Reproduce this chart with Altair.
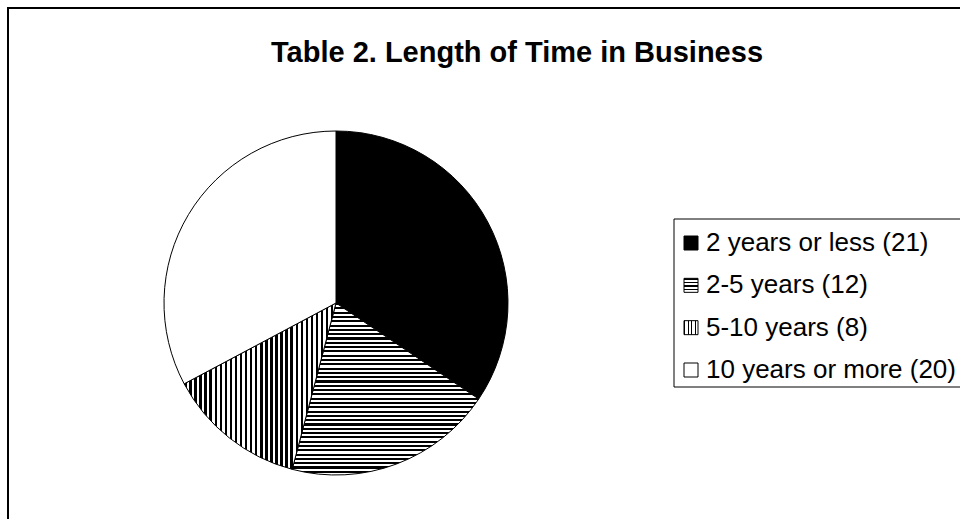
import altair as alt
import pandas as pd

# ---- data ----
categories = ["2 years or less (21)", "2-5 years (12)", "5-10 years (8)", "10 years or more (20)"]
counts = [21, 12, 8, 20]
title_text = "Table 2. Length of Time in Business"

df = pd.DataFrame({"cat": categories, "count": counts, "order": list(range(len(categories)))})
one = pd.DataFrame({"title": [title_text]})


def stripes(n, frac, horizontal):
    stops = []
    for i in range(n):
        a = i / n
        b = (i + frac) / n
        c = (i + 1) / n
        stops += [
            {"offset": a, "color": "black"},
            {"offset": b, "color": "black"},
            {"offset": b, "color": "white"},
            {"offset": c, "color": "white"},
        ]
    g = {"gradient": "linear", "stops": stops}
    if horizontal:
        g.update({"x1": 0, "y1": 0, "x2": 0, "y2": 1})
    else:
        g.update({"x1": 0, "y1": 0, "x2": 1, "y2": 0})
    return g


h_big = stripes(40, 0.5, True)
v_big = stripes(30, 0.48, False)
h_small = stripes(4, 0.4, True)
v_small = stripes(4, 0.4, False)


def fill_for(h, v):
    return (
        alt.when(alt.datum.cat == categories[0]).then(alt.value("black"))
        .when(alt.datum.cat == categories[1]).then(alt.value(h))
        .when(alt.datum.cat == categories[2]).then(alt.value(v))
        .otherwise(alt.value("white"))
    )


FONT = "Liberation Sans"

border_left = alt.Chart(one).mark_rule(color="black", strokeWidth=2).encode(
    x=alt.value(0), y=alt.value(-1), y2=alt.value(520)
)
border_top = alt.Chart(one).mark_rule(color="black", strokeWidth=2).encode(
    x=alt.value(-1), x2=alt.value(960), y=alt.value(0)
)

legend_box = alt.Chart(one).mark_rect(fill="white", stroke="black", strokeWidth=1).encode(
    x=alt.value(666), x2=alt.value(980), y=alt.value(211), y2=alt.value(379)
)

pie = alt.Chart(df).mark_arc(radius=172, stroke="black", strokeWidth=1).encode(
    theta=alt.Theta("count:Q", stack=True),
    order=alt.Order("order:Q"),
    x=alt.value(328),
    y=alt.value(295),
    fill=fill_for(h_big, v_big),
)

ly = alt.Y(
    "cat:N",
    scale=alt.Scale(type="point", domain=categories, range=[235, 362], padding=0),
    axis=None,
)

symbols = alt.Chart(df).mark_square(
    size=196, stroke="black", strokeWidth=1, opacity=1, fillOpacity=1
).encode(x=alt.value(683), y=ly, fill=fill_for(h_small, v_small))

labels = alt.Chart(df).mark_text(
    align="left", baseline="middle", font=FONT, fontSize=26, color="black"
).encode(x=alt.value(698), y=ly, text="cat:N")

title = alt.Chart(one).mark_text(
    align="center", baseline="alphabetic", font=FONT, fontSize=29, fontWeight="bold", color="black"
).encode(x=alt.value(509), y=alt.value(54), text="title:N")

chart = alt.layer(
    border_left, border_top, legend_box, pie, symbols, labels, title
).properties(
    width=952,
    height=511,
    padding={"left": 8, "top": 8, "right": 0, "bottom": 0},
    autosize=alt.AutoSizeParams(type="none"),
    background="white",
).configure_view(stroke=None)

chart.save("out.html", embed_options={"renderer": "svg", "actions": False})
